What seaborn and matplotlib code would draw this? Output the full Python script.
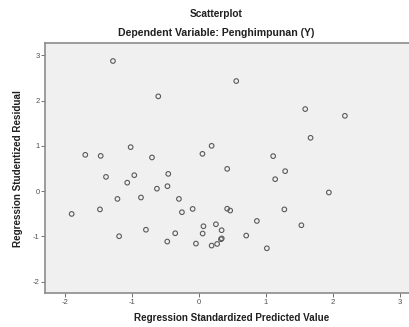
import numpy as np
import pandas as pd
import matplotlib
matplotlib.use("Agg")
import matplotlib.pyplot as plt
import seaborn as sns

# values
predicted = [-1.278, -0.602, 0.561, 1.590, 2.182, 1.670, -1.691, -1.461, -1.014, -0.696,
             0.057, 0.194, 1.112, -1.382, -0.960, -0.453, -1.065, -0.622, -0.465, 0.426,
             1.291, 1.142, 1.943, -1.211, -0.860, -0.294, -1.894, -1.472, -0.249, -0.089,
             0.426, 0.471, 1.279, 0.869, 1.533, -1.186, -0.786, -0.349, -0.468, -0.040,
             0.072, 0.060, 0.258, 0.343, 0.333, 0.276, 0.194, 0.710, 1.018, 0.345]
residual = [2.875, 2.094, 2.432, 1.813, 1.664, 1.178, 0.802, 0.779, 0.972, 0.744,
            0.824, 1.001, 0.773, 0.315, 0.352, 0.381, 0.187, 0.054, 0.109, 0.492,
            0.441, 0.264, -0.030, -0.172, -0.141, -0.172, -0.504, -0.404, -0.466, -0.393,
            -0.389, -0.429, -0.404, -0.659, -0.754, -0.997, -0.853, -0.931, -1.114, -1.159,
            -0.776, -0.937, -0.732, -0.864, -1.063, -1.167, -1.203, -0.982, -1.263, -1.045]
xticks = [-2, -1, 0, 1, 2, 3]
yticks = [-2, -1, 0, 1, 2, 3]

df = pd.DataFrame({'pred': predicted, 'resid': residual})

sns.set_theme(style='ticks')
plt.rcParams['font.family'] = ['Liberation Sans', 'DejaVu Sans']
plt.rcParams['axes.unicode_minus'] = False

fig = plt.figure(figsize=(4.09, 3.27), dpi=100)
fig.patch.set_facecolor('white')
ax = fig.add_axes([0.110, 0.103, 0.914, 0.7655])
ax.set_facecolor('#f0f0f0')

sns.scatterplot(data=df, x='pred', y='resid', ax=ax, marker='o', s=11,
                facecolor='none', edgecolor='#5a5a5a', linewidth=0.8)

ax.set_xlim(-2.292, 3.285)
ax.set_ylim(-2.258, 3.273)
ax.set_xticks(xticks)
ax.set_yticks(yticks)
ax.tick_params(axis='both', labelsize=5.5, length=3, width=0.7, pad=1,
               colors='#707070', labelcolor='#505050')

for side in ['left', 'bottom', 'top', 'right']:
    ax.spines[side].set_color('#8c8c8c')
    ax.spines[side].set_linewidth(1.2)

ax.set_xlabel('Regression Standardized Predicted Value', fontsize=7.1,
              fontweight='bold', color='#202020', labelpad=5)
ax.set_ylabel('Regression Studentized Residual', fontsize=7.1,
              fontweight='bold', color='#202020', labelpad=7)

fig.text(0.528, 0.957, 'Scatterplot', ha='center', va='center',
         fontsize=7.3, fontweight='bold', color='#202020')
fig.text(0.528, 0.899, 'Dependent Variable: Penghimpunan (Y)', ha='center', va='center',
         fontsize=7.6, fontweight='bold', color='#202020')

fig.savefig('out.png', dpi=100)
